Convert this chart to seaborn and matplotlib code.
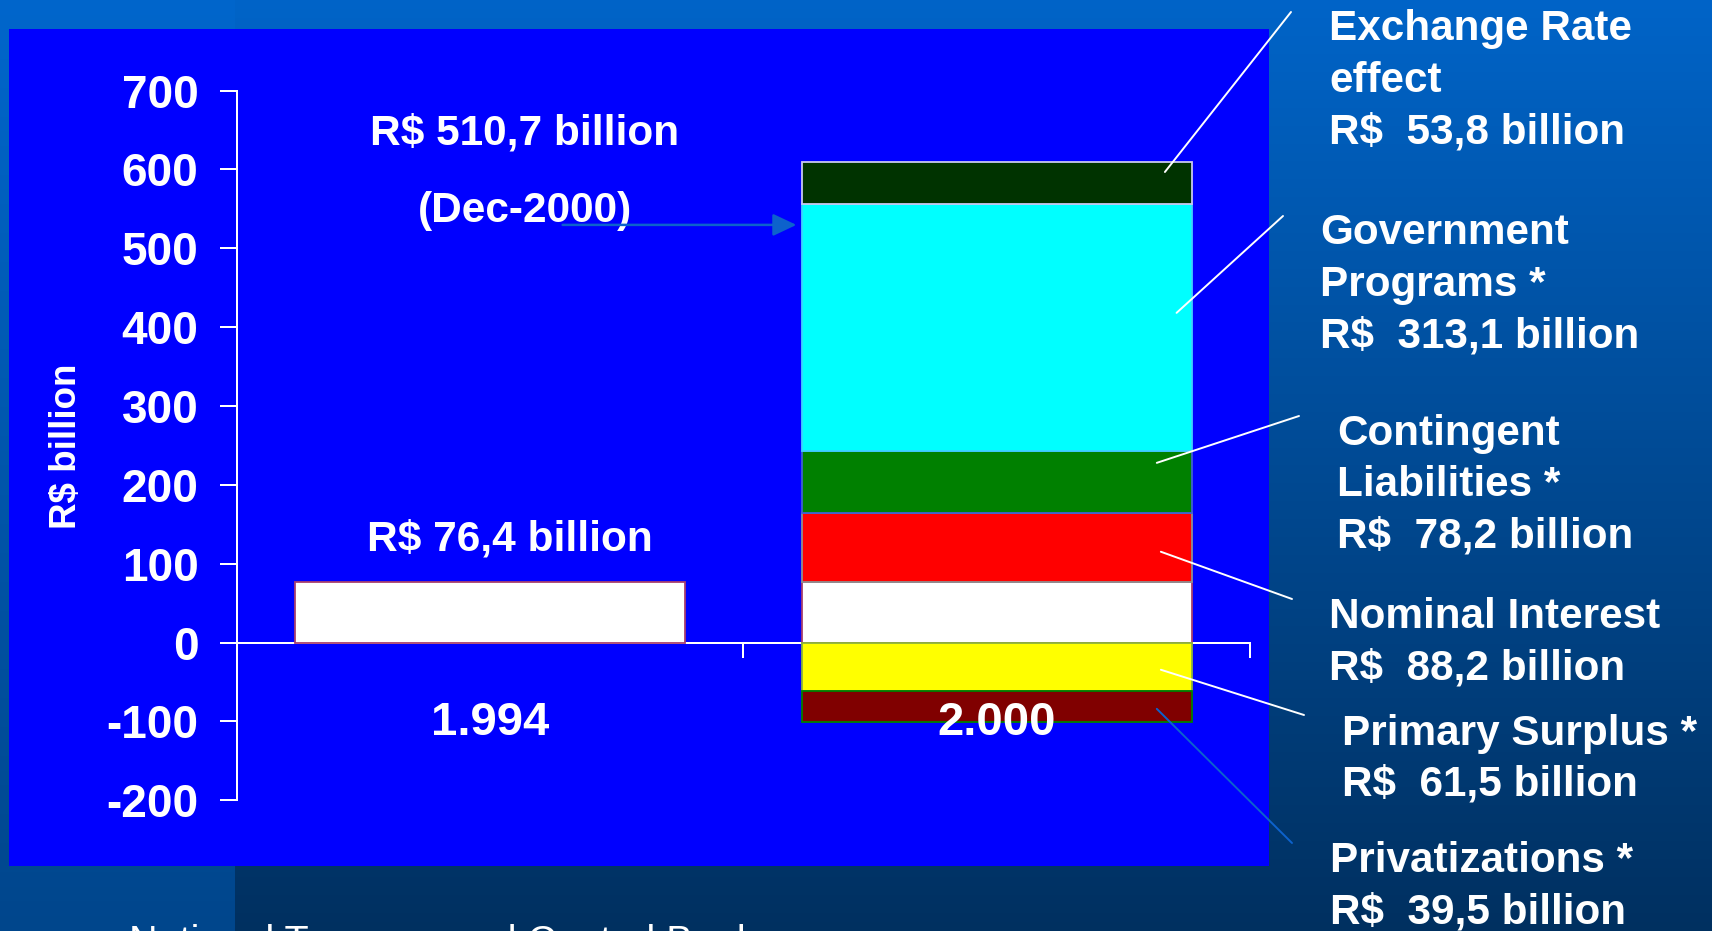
import numpy as np
import matplotlib
matplotlib.use("Agg")
import matplotlib.pyplot as plt
from matplotlib.patches import Rectangle
import seaborn as sns

# ---------------- data ----------------
years = ["1.994", "2.000"]
debt_1994 = 76.4
total_2000 = 510.7
total_date = "(Dec-2000)"
components = ["Exchange Rate effect", "Government Programs *", "Contingent Liabilities *",
              "Nominal Interest", "Primary Surplus *", "Privatizations *"]
component_lines = [["Exchange Rate", "effect"], ["Government", "Programs *"],
                   ["Contingent", "Liabilities *"], ["Nominal Interest"],
                   ["Primary Surplus *"], ["Privatizations *"]]
component_values = [53.8, 313.1, 78.2, 88.2, -61.5, -39.5]
y_ticks = [-200, -100, 0, 100, 200, 300, 400, 500, 600, 700]
y_title = "R$ billion"
source_note = "National Treasury and Central Bank"

# ---------------- styles / layout ----------------
W, H = 1712, 931
FONT = ["Liberation Sans", "DejaVu Sans"]
plt.rcParams["font.family"] = FONT
plt.rcParams["axes.unicode_minus"] = False

component_colors = ["#003300", "#00FFFF", "#008000", "#FF0000", "#FFFF00", "#800000"]
component_edges = ["#C8C8F0", "#40D0FF", "#4060D0", "#909090", "#8CB43C", "#008000"]
base_color, base_edge = "#FFFFFF", "#A8406E"
panel_color = "#0000FF"
arrow_color = "#0D62CC"
leader_colors = ["white", "white", "white", "white", "white", arrow_color]

up_order = [3, 2, 1, 0]     # stacked upward from the 1994 stock
down_order = [4, 5]         # stacked downward from zero

bar_width = 0.77
edge_lw = 1.3

# label blocks on the right (figure pixels, measured from the top)
label_left = [1329, 1320.5, 1337, 1329, 1342.5, 1330]
label_first_baseline = [40.4, 244.5, 445, 627.5, 744.5, 872.5]
line_step = 51.5
leader_end = [(1291, 12), (1283, 216), (1299, 416), (1292, 599), (1304, 715), (1292, 843)]
leader_anchor_x = [1.332, 1.355, 1.316, 1.324, 1.324, 1.316]
leader_anchor_frac = [0.76, 0.56, 0.81, 0.44, 0.56, 0.57]


def fx(px):
    return px / W


def fy(py):
    return 1 - py / H


fig = plt.figure(figsize=(W / 100, H / 100), dpi=100)

# slide background: vertical gradient with a lighter left band
bg = fig.add_axes([0, 0, 1, 1], zorder=-10)
bg.axis("off")
t = np.linspace(0, 1, H)[:, None]
main_top, main_bot = np.array([0, 100, 200]) / 255, np.array([0, 48, 96]) / 255
band_top, band_bot = np.array([0, 102, 204]) / 255, np.array([0, 70, 140]) / 255
grad = np.empty((H, W, 3))
grad[:] = (main_top + (main_bot - main_top) * t[..., None])
grad[:, :235] = (band_top + (band_bot - band_top) * t[..., None])
bg.imshow(grad, aspect="auto", extent=[0, 1, 0, 1], interpolation="bilinear")
bg.add_patch(Rectangle((fx(9), fy(866)), fx(1269 - 9), (866 - 29) / H,
                       transform=bg.transAxes, facecolor=panel_color, edgecolor="none"))
bg.set_xlim(0, 1)
bg.set_ylim(0, 1)

# chart axes
ax = fig.add_axes([fx(237), fy(800.3), fx(1250 - 237), (800.3 - 90.6) / H])
ax.set_facecolor("none")

bar_kw = dict(order=years, width=bar_width, saturation=1, errorbar=None,
              linewidth=edge_lw, ax=ax)

# 1994 stock and the same stock as base of the 2000 bar
sns.barplot(x=[years[0]], y=[debt_1994], color=base_color, edgecolor=base_edge, **bar_kw)
sns.barplot(x=[years[1]], y=[debt_1994], color=base_color, edgecolor=base_edge, **bar_kw)

seg_bottom = {}
level = debt_1994
for i in up_order:
    seg_bottom[i] = level
    sns.barplot(x=[years[1]], y=[component_values[i]], bottom=level,
                color=component_colors[i], edgecolor=component_edges[i], **bar_kw)
    level += component_values[i]
level = 0.0
for i in down_order:
    seg_bottom[i] = level
    sns.barplot(x=[years[1]], y=[component_values[i]], bottom=level,
                color=component_colors[i], edgecolor=component_edges[i], **bar_kw)
    level += component_values[i]

# axes styling
ax.set_xlim(-0.5, 1.5)
ax.set_ylim(y_ticks[0], y_ticks[-1])
ax.set_xlabel("")
ax.set_yticks(y_ticks)
ax.set_yticklabels([str(v) for v in y_ticks], fontsize=33, fontweight="bold", color="white")
ax.set_xticks([0.5, 1.5])
ax.set_xticklabels([])
for s in ["top", "right"]:
    ax.spines[s].set_visible(False)
ax.spines["left"].set_color("white")
ax.spines["left"].set_linewidth(1.44)
ax.spines["bottom"].set_position(("data", 0))
ax.spines["bottom"].set_color("white")
ax.spines["bottom"].set_linewidth(1.44)
ax.spines["bottom"].set_zorder(0.5)
ax.tick_params(axis="y", colors="white", length=12.2, width=1.44, pad=15.5, direction="out")
ax.tick_params(axis="x", colors="white", length=10.8, width=1.44, direction="out")
ax.grid(False)

ax.set_ylabel(y_title, fontsize=26.5, fontweight="bold", color="white")
ax.yaxis.set_label_coords(-0.1685, 0.4992)
ax.yaxis.label.set(va="center", ha="center", rotation_mode="anchor")

# category names
for i, yr in enumerate(years):
    ax.text(i, -117, yr, ha="center", va="baseline", fontsize=34,
            fontweight="bold", color="white", zorder=6)


def brl(v):
    return f"{abs(v):.1f}".replace(".", ",")


# totals
ax.text(0.0685, 631.2, f"R$ {brl(total_2000)} billion", ha="center", va="baseline",
        fontsize=30.5, fontweight="bold", color="white")
ax.text(0.0685, 534, total_date, ha="center", va="baseline",
        fontsize=30.5, fontweight="bold", color="white")
ax.text(0.038, 116.3, f"R$ {brl(debt_1994)} billion", ha="center", va="baseline",
        fontsize=30.5, fontweight="bold", color="white")
ax.annotate("", xy=(0.6045, 529.7), xytext=(0.1429, 529.7),
            arrowprops=dict(arrowstyle="-|>,head_length=0.72,head_width=0.34",
                            mutation_scale=20, color=arrow_color, lw=1.8,
                            shrinkA=0, shrinkB=0))

# component labels with leader lines
for k, lines in enumerate(component_lines):
    all_lines = lines + [f"R$  {brl(component_values[k])} billion"]
    for j, txt in enumerate(all_lines):
        fig.text(fx(label_left[k]), fy(label_first_baseline[k] + j * line_step), txt,
                 ha="left", va="baseline", fontsize=30.4, fontweight="bold", color="white")
    y_anchor = seg_bottom[k] + leader_anchor_frac[k] * component_values[k]
    ex, ey = leader_end[k]
    ax.annotate("", xy=(leader_anchor_x[k], y_anchor), xycoords="data",
                xytext=(ex, H - ey), textcoords="figure pixels",
                arrowprops=dict(arrowstyle="-", color=leader_colors[k], lw=1.4,
                                shrinkA=0, shrinkB=0),
                annotation_clip=False, zorder=7)

# source line at the foot of the slide, running off the bottom edge
fig.text(fx(129), fy(953.5), source_note, ha="left", va="baseline",
         fontsize=28.5, color="white")

fig.savefig("out.png", dpi=100)
